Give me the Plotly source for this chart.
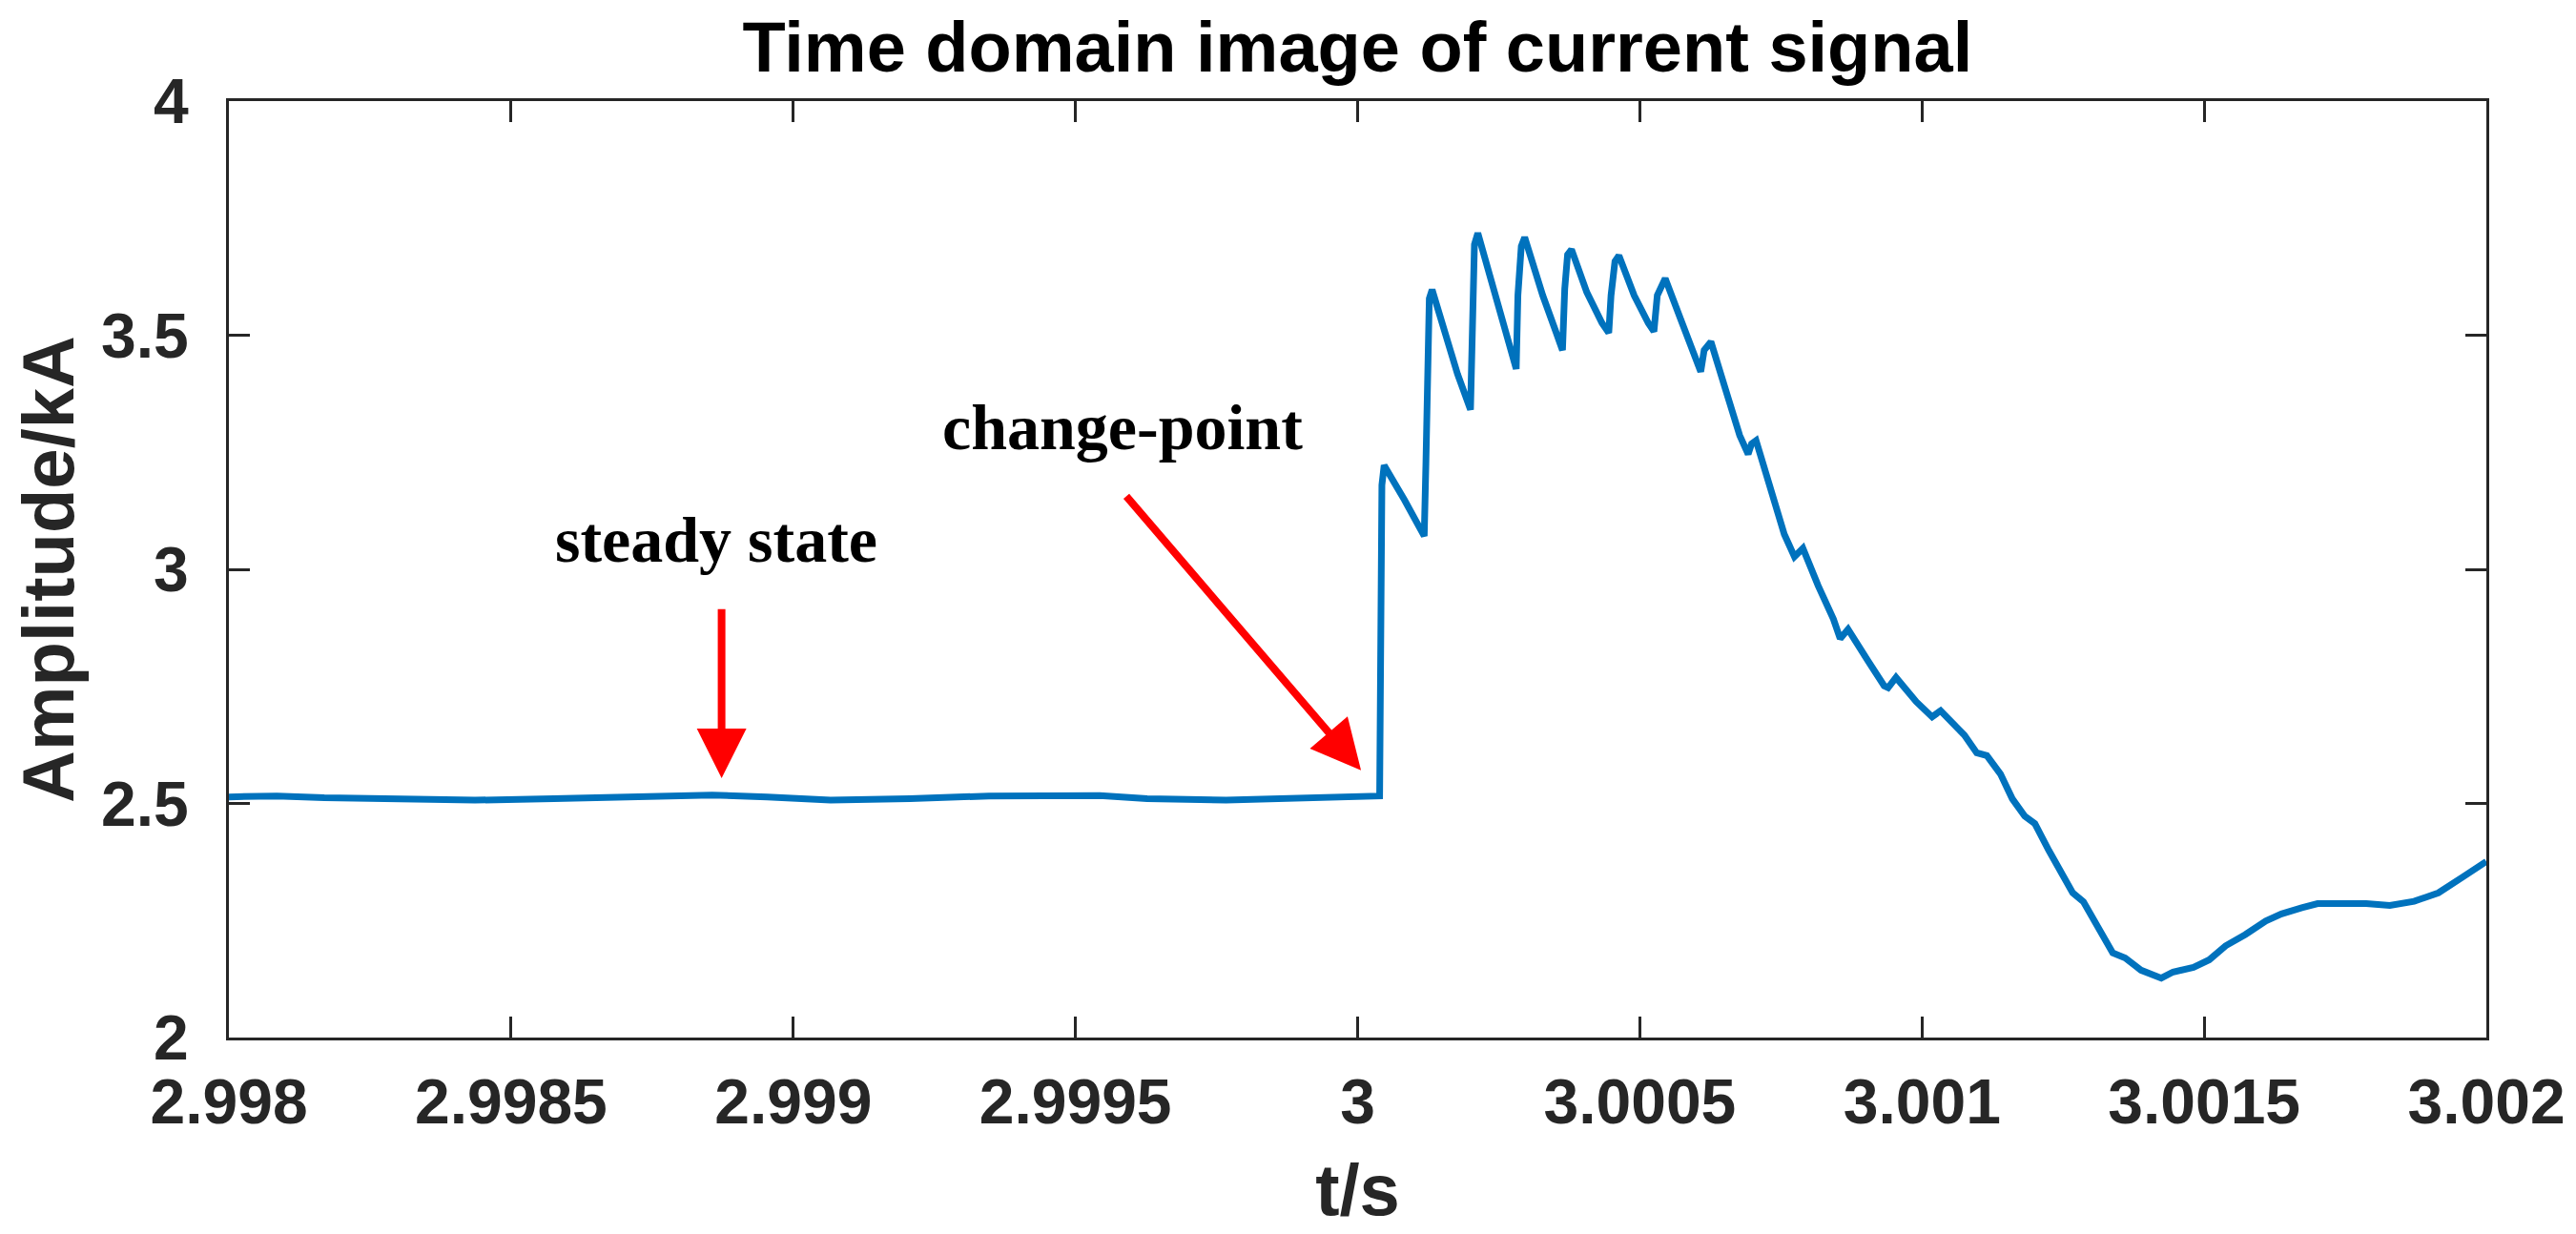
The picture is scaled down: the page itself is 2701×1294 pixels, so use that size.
import plotly.graph_objects as go

# time axis (s) and current amplitude (kA)
t = [
    2.998000, 2.998085, 2.998169, 2.998295, 2.998436, 2.998576, 2.998716, 2.998856,
    2.998954, 2.999066, 2.999207, 2.999347, 2.999543, 2.999627, 2.999767, 2.999879,
    3.000039, 3.000043, 3.000047, 3.000083, 3.000118, 3.000121, 3.000124, 3.000127,
    3.000132, 3.000153, 3.000177, 3.000200, 3.000203, 3.000207, 3.000213, 3.000243,
    3.000267, 3.000281, 3.000284, 3.000290, 3.000296, 3.000328, 3.000352, 3.000363,
    3.000367, 3.000372, 3.000379, 3.000406, 3.000433, 3.000445, 3.000449, 3.000456,
    3.000463, 3.000490, 3.000515, 3.000525, 3.000531, 3.000545, 3.000575, 3.000599,
    3.000608, 3.000614, 3.000626, 3.000653, 3.000677, 3.000692, 3.000698, 3.000706,
    3.000732, 3.000756, 3.000774, 3.000789, 3.000816, 3.000843, 3.000855, 3.000869,
    3.000905, 3.000933, 3.000940, 3.000954, 3.000990, 3.001018, 3.001033, 3.001075,
    3.001097, 3.001115, 3.001139, 3.001160, 3.001182, 3.001200, 3.001225, 3.001246,
    3.001267, 3.001286, 3.001310, 3.001338, 3.001360, 3.001388, 3.001424, 3.001445,
    3.001481, 3.001509, 3.001538, 3.001573, 3.001609, 3.001637, 3.001673, 3.001701,
    3.001787, 3.001829, 3.001872, 3.001915, 3.001957, 3.002000,
]
amp = [
    2.514, 2.516, 2.512, 2.509, 2.507, 2.510, 2.515, 2.518,
    2.514, 2.507, 2.510, 2.516, 2.517, 2.510, 2.507, 2.510,
    2.516, 3.180, 3.222, 3.148, 3.071, 3.226, 3.453, 3.578,
    3.597, 3.512, 3.417, 3.341, 3.527, 3.694, 3.718, 3.585,
    3.483, 3.428, 3.585, 3.690, 3.709, 3.585, 3.505, 3.468,
    3.599, 3.672, 3.683, 3.592, 3.526, 3.505, 3.585, 3.658,
    3.670, 3.585, 3.526, 3.508, 3.585, 3.621, 3.526, 3.453,
    3.422, 3.468, 3.486, 3.380, 3.286, 3.246, 3.268, 3.275,
    3.177, 3.075, 3.027, 3.045, 2.965, 2.894, 2.852, 2.872,
    2.803, 2.751, 2.747, 2.769, 2.717, 2.685, 2.698, 2.646,
    2.608, 2.602, 2.563, 2.510, 2.473, 2.457, 2.399, 2.354,
    2.309, 2.290, 2.241, 2.181, 2.170, 2.144, 2.127, 2.140,
    2.150, 2.166, 2.196, 2.220, 2.249, 2.264, 2.277, 2.286,
    2.286, 2.282, 2.291, 2.309, 2.342, 2.376,
]

x_ticks = [2.998, 2.9985, 2.999, 2.9995, 3.0, 3.0005, 3.001, 3.0015, 3.002]
x_labels = ["2.998", "2.9985", "2.999", "2.9995", "3", "3.0005", "3.001", "3.0015", "3.002"]
y_ticks = [2, 2.5, 3, 3.5, 4]
y_labels = ["2", "2.5", "3", "3.5", "4"]

# annotation arrows: (tip t, tip A, tail t, tail A)
steady_arrow = (2.998873, 2.554, 2.998873, 2.918)
change_arrow = (3.000006, 2.571, 2.999588, 3.159)

axis_col = "#262626"
sans = "Liberation Sans, Arial, sans-serif"
serif = "Liberation Serif, Times New Roman, serif"

fig = go.Figure()
fig.add_trace(go.Scatter(
    x=t, y=amp, mode="lines",
    line=dict(color="#0072BD", width=7),
    showlegend=False,
))

for tip_x, tip_y, tail_x, tail_y in [steady_arrow, change_arrow]:
    fig.add_annotation(
        x=tip_x, y=tip_y, ax=tail_x, ay=tail_y,
        xref="x", yref="y", axref="x", ayref="y",
        text="", showarrow=True,
        arrowhead=2, arrowsize=1.3, arrowwidth=8, arrowcolor="#FF0000",
    )

fig.add_annotation(x=2.998863, y=3.063, xref="x", yref="y", text="<b>steady state</b>",
                   showarrow=False, font=dict(family=serif, size=68, color="black"))
fig.add_annotation(x=2.999584, y=3.304, xref="x", yref="y", text="<b>change-point</b>",
                   showarrow=False, font=dict(family=serif, size=68, color="black"))

fig.update_layout(
    width=2701, height=1294,
    paper_bgcolor="white", plot_bgcolor="white",
    margin=dict(l=232, r=102, t=98, b=214),
    title=dict(text="<b>Time domain image of current signal</b>",
               x=0.524, xanchor="center", y=0.968, yanchor="middle", yref="container",
               font=dict(family=sans, size=74, color="black")),
    showlegend=False,
)

fig.update_xaxes(
    range=[2.998, 3.002], tickvals=x_ticks, ticktext=x_labels,
    showline=True, mirror="ticks", linecolor=axis_col, linewidth=3,
    ticks="inside", ticklen=22, tickwidth=3, tickcolor=axis_col,
    ticklabelstandoff=8,
    showgrid=False, zeroline=False,
    tickfont=dict(family=sans, size=66, color=axis_col, weight="bold"),
    title=dict(text="<b>t/s</b>", standoff=30,
               font=dict(family=sans, size=76, color=axis_col)),
)
fig.update_yaxes(
    range=[2, 4], tickvals=y_ticks, ticktext=y_labels,
    showline=True, mirror="ticks", linecolor=axis_col, linewidth=3,
    ticks="inside", ticklen=22, tickwidth=3, tickcolor=axis_col,
    ticklabelstandoff=26,
    showgrid=False, zeroline=False,
    tickfont=dict(family=sans, size=66, color=axis_col, weight="bold"),
    title=dict(text="<b>Amplitude/kA</b>", standoff=18,
               font=dict(family=sans, size=76, color=axis_col)),
)

fig.write_html("out.html")
